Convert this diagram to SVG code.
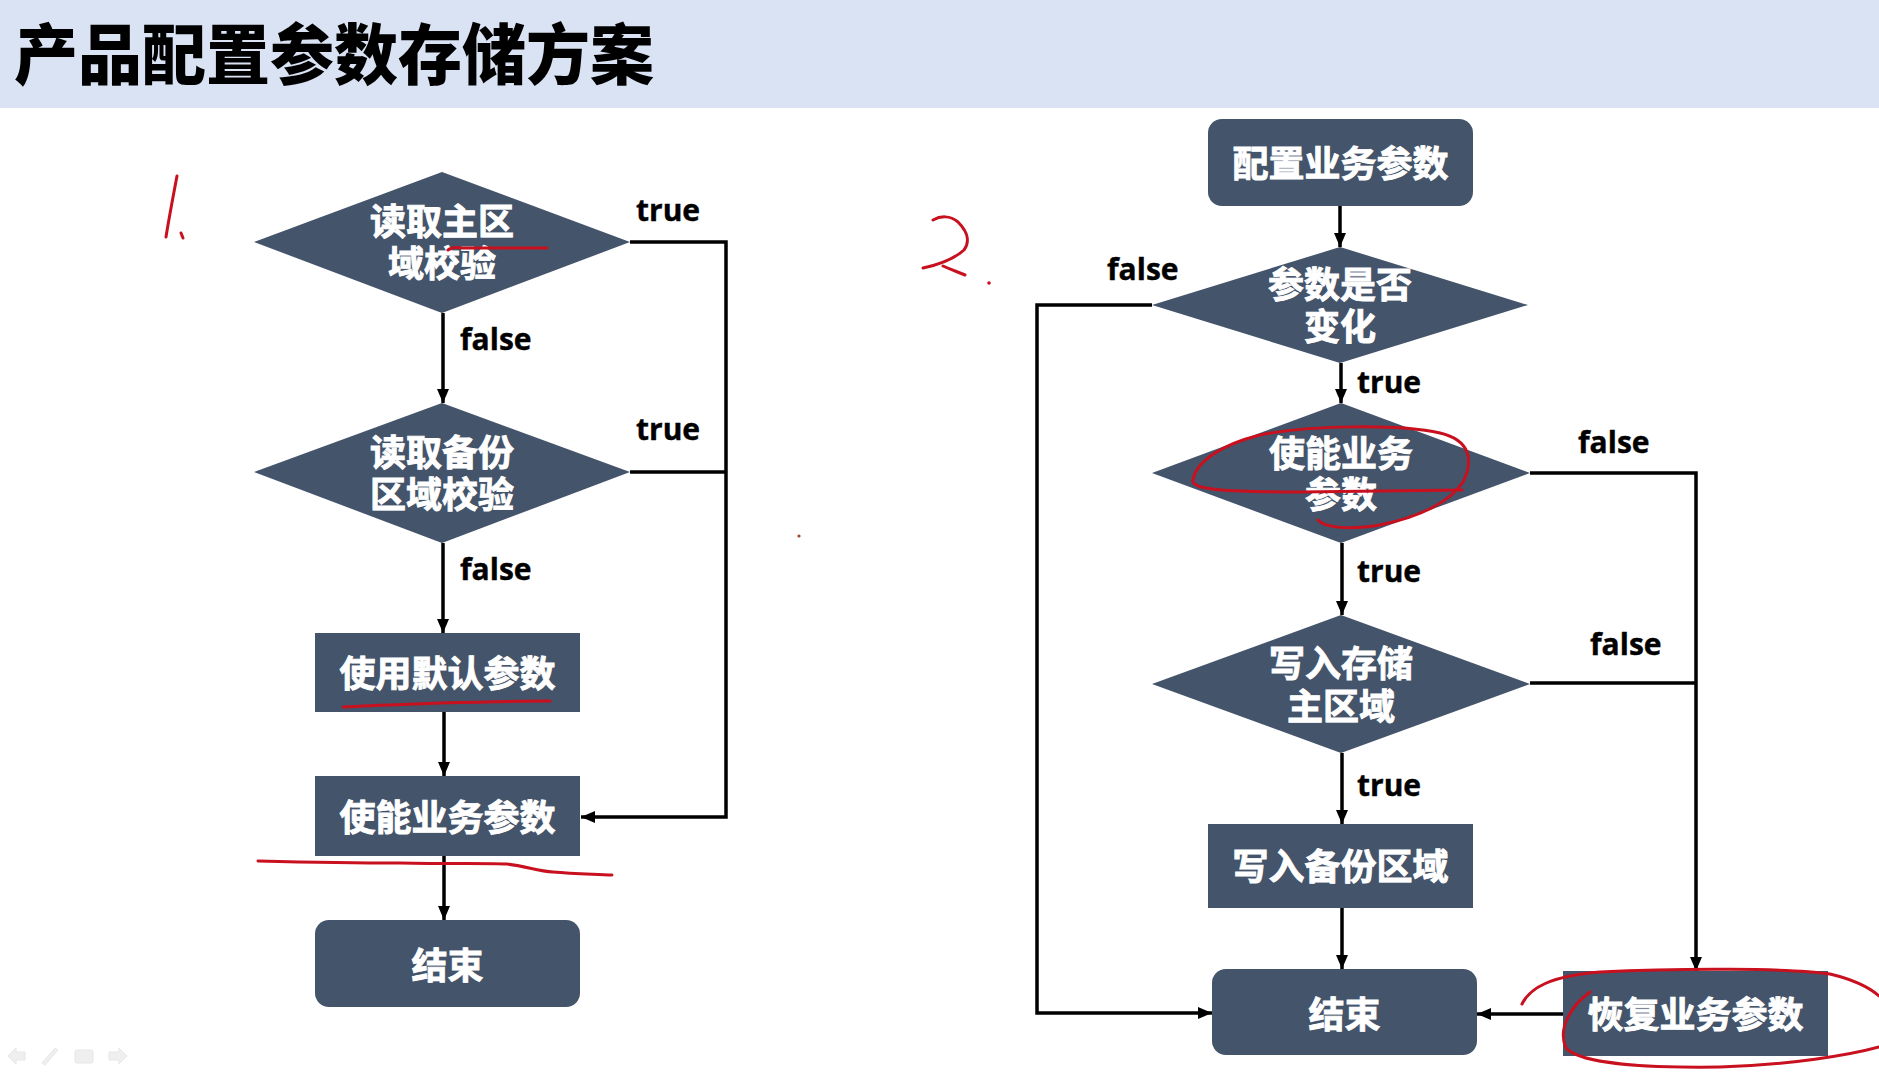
<svg xmlns="http://www.w3.org/2000/svg" width="1879" height="1077" viewBox="0 0 1879 1077">
  <defs>
    <marker id="arrow" markerUnits="userSpaceOnUse" markerWidth="14" markerHeight="12" refX="14" refY="6" orient="auto">
      <path d="M0,0 L14,6 L0,12 z" fill="#000"/>
    </marker>
    <style>
      .node { fill: #44546A; }
      .ntext { font-family: "Noto Sans CJK SC", "Noto Sans", sans-serif; font-weight: 700; font-size: 36px; fill: #fff; stroke: #fff; stroke-width: 0.9; text-anchor: middle; }
      .lbl { font-family: "Open Sans", "Noto Sans", sans-serif; font-weight: 700; font-size: 30px; fill: #000; stroke: #000; stroke-width: 0.4; }
      .wire { fill: none; stroke: #000; stroke-width: 3.5; }
      .ink { fill: none; stroke: #C8101E; stroke-width: 3; stroke-linecap: round; stroke-linejoin: round; }
      .title { font-family: "Noto Sans CJK SC", sans-serif; font-weight: 900; font-size: 66px; fill: #000; }
      .nav { fill: #ececec; stroke: #e2e2e2; stroke-width: 1; }
    </style>
  </defs>

  <rect x="0" y="0" width="1879" height="1077" fill="#ffffff"/>

  <!-- header band -->
  <g id="header">
    <rect x="0" y="0" width="1879" height="108" fill="#DAE3F3"/>
    <text class="title" x="14" y="79" textLength="640" lengthAdjust="spacingAndGlyphs">产品配置参数存储方案</text>
  </g>

  <!-- connectors -->
  <g id="connectors">
    <!-- left flow -->
    <line class="wire" x1="443" y1="313" x2="443" y2="403" marker-end="url(#arrow)"/>
    <line class="wire" x1="443" y1="543" x2="443" y2="633" marker-end="url(#arrow)"/>
    <line class="wire" x1="444" y1="712" x2="444" y2="776" marker-end="url(#arrow)"/>
    <line class="wire" x1="444" y1="856" x2="444" y2="920" marker-end="url(#arrow)"/>
    <polyline class="wire" points="630,242 726,242 726,817 581,817" marker-end="url(#arrow)"/>
    <line class="wire" x1="630" y1="472" x2="726" y2="472"/>

    <!-- right flow -->
    <line class="wire" x1="1340" y1="206" x2="1340" y2="247" marker-end="url(#arrow)"/>
    <line class="wire" x1="1341" y1="363" x2="1341" y2="403" marker-end="url(#arrow)"/>
    <line class="wire" x1="1342" y1="543" x2="1342" y2="615" marker-end="url(#arrow)"/>
    <line class="wire" x1="1342" y1="753" x2="1342" y2="824" marker-end="url(#arrow)"/>
    <line class="wire" x1="1342" y1="908" x2="1342" y2="969" marker-end="url(#arrow)"/>
    <polyline class="wire" points="1152,305 1037,305 1037,1013 1212,1013" marker-end="url(#arrow)"/>
    <polyline class="wire" points="1530,473 1696,473 1696,971" marker-end="url(#arrow)"/>
    <line class="wire" x1="1530" y1="683" x2="1696" y2="683"/>
    <line class="wire" x1="1563" y1="1014" x2="1477" y2="1014" stroke-width="3" marker-end="url(#arrow)"/>
  </g>

  <!-- branch labels -->
  <g id="labels">
    <text class="lbl" x="636" y="221">true</text>
    <text class="lbl" x="460" y="350">false</text>
    <text class="lbl" x="636" y="440">true</text>
    <text class="lbl" x="460" y="580">false</text>

    <text class="lbl" x="1107" y="280">false</text>
    <text class="lbl" x="1357" y="393">true</text>
    <text class="lbl" x="1578" y="453">false</text>
    <text class="lbl" x="1357" y="582">true</text>
    <text class="lbl" x="1590" y="655">false</text>
    <text class="lbl" x="1357" y="796">true</text>
  </g>

  <!-- left flow nodes -->
  <g id="check-main">
    <polygon class="node" points="254,242 442,172 630,242 442,313"/>
    <text class="ntext" x="442" y="235">读取主区</text>
    <text class="ntext" x="442" y="277">域校验</text>
  </g>
  <g id="check-backup">
    <polygon class="node" points="254,472 442,403 630,472 442,543"/>
    <text class="ntext" x="442" y="466">读取备份</text>
    <text class="ntext" x="442" y="508">区域校验</text>
  </g>
  <g id="use-default">
    <rect class="node" x="315" y="633" width="265" height="79"/>
    <text class="ntext" x="447.5" y="687">使用默认参数</text>
  </g>
  <g id="enable-left">
    <rect class="node" x="315" y="776" width="265" height="80"/>
    <text class="ntext" x="447.5" y="831">使能业务参数</text>
  </g>
  <g id="end-left">
    <rect class="node" x="315" y="920" width="265" height="87" rx="14" ry="14"/>
    <text class="ntext" x="447.5" y="979">结束</text>
  </g>

  <!-- right flow nodes -->
  <g id="configure">
    <rect class="node" x="1208" y="119" width="265" height="87" rx="14" ry="14"/>
    <text class="ntext" x="1340.5" y="177">配置业务参数</text>
  </g>
  <g id="changed">
    <polygon class="node" points="1152,305 1340,247 1528,305 1340,363"/>
    <text class="ntext" x="1340" y="298">参数是否</text>
    <text class="ntext" x="1340" y="340">变化</text>
  </g>
  <g id="enable-right">
    <polygon class="node" points="1152,473 1341,403 1530,473 1341,543"/>
    <text class="ntext" x="1341" y="467">使能业务</text>
    <text class="ntext" x="1341" y="508">参数</text>
  </g>
  <g id="write-main">
    <polygon class="node" points="1152,684 1341,615 1530,684 1341,753"/>
    <text class="ntext" x="1341" y="677">写入存储</text>
    <text class="ntext" x="1341" y="720">主区域</text>
  </g>
  <g id="write-backup">
    <rect class="node" x="1208" y="824" width="265" height="84"/>
    <text class="ntext" x="1340.5" y="880">写入备份区域</text>
  </g>
  <g id="end-right">
    <rect class="node" x="1212" y="969" width="265" height="86" rx="14" ry="14"/>
    <text class="ntext" x="1344.5" y="1028">结束</text>
  </g>
  <g id="restore">
    <rect class="node" x="1563" y="971" width="265" height="85"/>
    <text class="ntext" x="1695.5" y="1028">恢复业务参数</text>
  </g>

  <!-- hand-drawn pen marks -->
  <g id="pen-marks">
    <path class="ink" d="M177 176 C173 197 169 218 166 237"/>
    <path class="ink" d="M181 233 L183 238"/>
    <path class="ink" d="M448 250 C452 247 456 247 462 248 L547 248"/>
    <path class="ink" d="M343 707 C380 705 420 704 440 703 C480 702 520 701 550 701"/>
    <path class="ink" d="M258 861 C300 862 350 863 400 863 C450 864 490 863 507 864 C525 866 538 871 553 872 C575 874 595 874 612 875"/>
    <path class="ink" d="M933 220 C940 216 950 215 958 222 C968 232 970 242 964 250 C955 258 942 264 923 268 M943 266 C952 270 958 272 965 275"/>
    <circle cx="989" cy="283" r="1.8" fill="#C8101E"/>
    <circle cx="799" cy="536" r="1.6" fill="#a04030"/>
    <path class="ink" d="M1462 490 L1300 492 C1230 492 1190 490 1193 480 C1196 462 1220 445 1260 435 C1310 425 1400 424 1440 433 C1470 440 1474 460 1463 482 C1450 502 1420 517 1380 525 C1350 530 1325 528 1318 520"/>
    <path class="ink" d="M1522 1004 C1530 988 1550 976 1600 972 C1680 968 1790 968 1830 974 C1855 980 1870 988 1879 996"/>
    <path class="ink" d="M1590 992 C1572 1005 1557 1028 1566 1048 C1580 1064 1650 1068 1720 1067 C1790 1065 1850 1055 1879 1047"/>
  </g>

  <!-- faint slideshow controls -->
  <g id="nav-controls" opacity="0.8">
    <path class="nav" d="M8 1056 L16 1048 L16 1052 L25 1052 L25 1060 L16 1060 L16 1064 z"/>
    <path class="nav" d="M42 1063 L55 1048 L58 1050 L45 1065 z"/>
    <rect class="nav" x="75" y="1050" width="18" height="13" rx="2"/>
    <path class="nav" d="M127 1056 L119 1048 L119 1052 L109 1052 L109 1060 L119 1060 L119 1064 z"/>
  </g>
</svg>
